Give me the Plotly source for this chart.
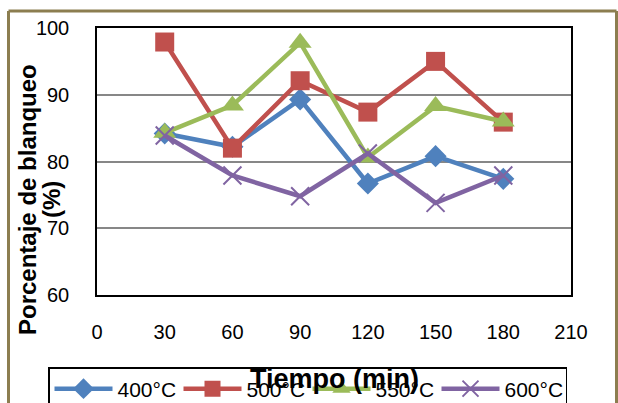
import plotly.graph_objects as go

tiempo = [30, 60, 90, 120, 150, 180]
s400 = [84.2, 82.2, 89.3, 76.7, 80.8, 77.4]
s500 = [97.9, 82.0, 92.1, 87.4, 95.0, 85.9]
s550 = [84.3, 88.4, 97.8, 80.6, 88.3, 86.0]
s600 = [83.9, 77.9, 74.8, 81.2, 73.8, 77.9]
series_names = ["400°C", "500°C", "550°C", "600°C"]
x_ticks = [0, 30, 60, 90, 120, 150, 180, 210]
y_ticks = [60, 70, 80, 90, 100]

colors = ["#4F81BD", "#C0504D", "#9BBB59", "#8064A2"]
symbols = ["diamond", "square", "triangle-up", "x-thin"]
sizes = [17, 19, 20, 18]

fig = go.Figure()
for name, ys, c, sym, sz in zip(series_names, [s400, s500, s550, s600], colors, symbols, sizes):
    marker = dict(symbol=sym, size=sz, color=c)
    if sym == "x-thin":
        marker["line"] = dict(color=c, width=2)
    fig.add_trace(go.Scatter(x=tiempo, y=ys, name=name, mode="lines+markers",
                             line=dict(color=c, width=4.5), marker=marker))

W, H = 618, 403
L, R, T, B = 97, 571, 28, 295
pw, ph = R - L, B - T

def px(x):
    return (x - L) / pw

def py(y):
    return (B - y) / ph

font = "Liberation Sans, Arial, sans-serif"

fig.update_layout(
    width=W, height=H,
    margin=dict(l=L, r=W - R, t=T, b=H - B, autoexpand=False),
    paper_bgcolor="white", plot_bgcolor="white",
    font=dict(family=font, size=20, color="black"),
    showlegend=True,
    legend=dict(orientation="h", x=px(48), y=py(367), xanchor="left", yanchor="top",
                bordercolor="black", borderwidth=1.5, bgcolor="rgba(255,255,255,0)",
                font=dict(size=21), entrywidth=56, entrywidthmode="pixels",
                itemwidth=58, tracegroupgap=0),
    xaxis=dict(range=[0, 210], tickvals=x_ticks, ticktext=[str(v) for v in x_ticks],
               showgrid=False, zeroline=False, showline=True, linecolor="black",
               linewidth=1.5, mirror=True, ticks="", ticklabelstandoff=18,
               tickfont=dict(size=20)),
    yaxis=dict(range=[60, 100], tickvals=y_ticks, ticktext=[str(v) for v in y_ticks],
               showgrid=True, gridcolor="#878787", gridwidth=1.5, zeroline=False,
               showline=True, linecolor="black", linewidth=1.5, mirror=True, ticks="",
               ticklabelstandoff=22, tickfont=dict(size=20)),
    shapes=[
        dict(type="line", xref="paper", yref="paper", x0=px(8.5), x1=px(8.5), y0=py(420), y1=py(11),
             line=dict(color="#8C7E50", width=3)),
        dict(type="line", xref="paper", yref="paper", x0=px(8.5), x1=px(616.5), y0=py(11), y1=py(11),
             line=dict(color="#8C7E50", width=3)),
        dict(type="line", xref="paper", yref="paper", x0=px(616.5), x1=px(616.5), y0=py(420), y1=py(11),
             line=dict(color="#8C7E50", width=3)),
    ],
    annotations=[
        dict(text="<b>Porcentaje de blanqueo</b>", xref="paper", yref="paper",
             x=px(27), y=py(200), xanchor="center", yanchor="middle", textangle=-90,
             showarrow=False, font=dict(size=24, family=font, color="black")),
        dict(text="<b>(%)</b>", xref="paper", yref="paper",
             x=px(51), y=py(200), xanchor="center", yanchor="middle", textangle=-90,
             showarrow=False, font=dict(size=24, family=font, color="black")),
        dict(text="<b>Tiempo (min)</b>", xref="paper", yref="paper",
             x=px(334), y=py(379), xanchor="center", yanchor="middle",
             showarrow=False, font=dict(size=27, family=font, color="black")),
    ],
)

fig.write_html("out.html", config={"displayModeBar": False},
               post_script="document.body.style.margin='0';")
